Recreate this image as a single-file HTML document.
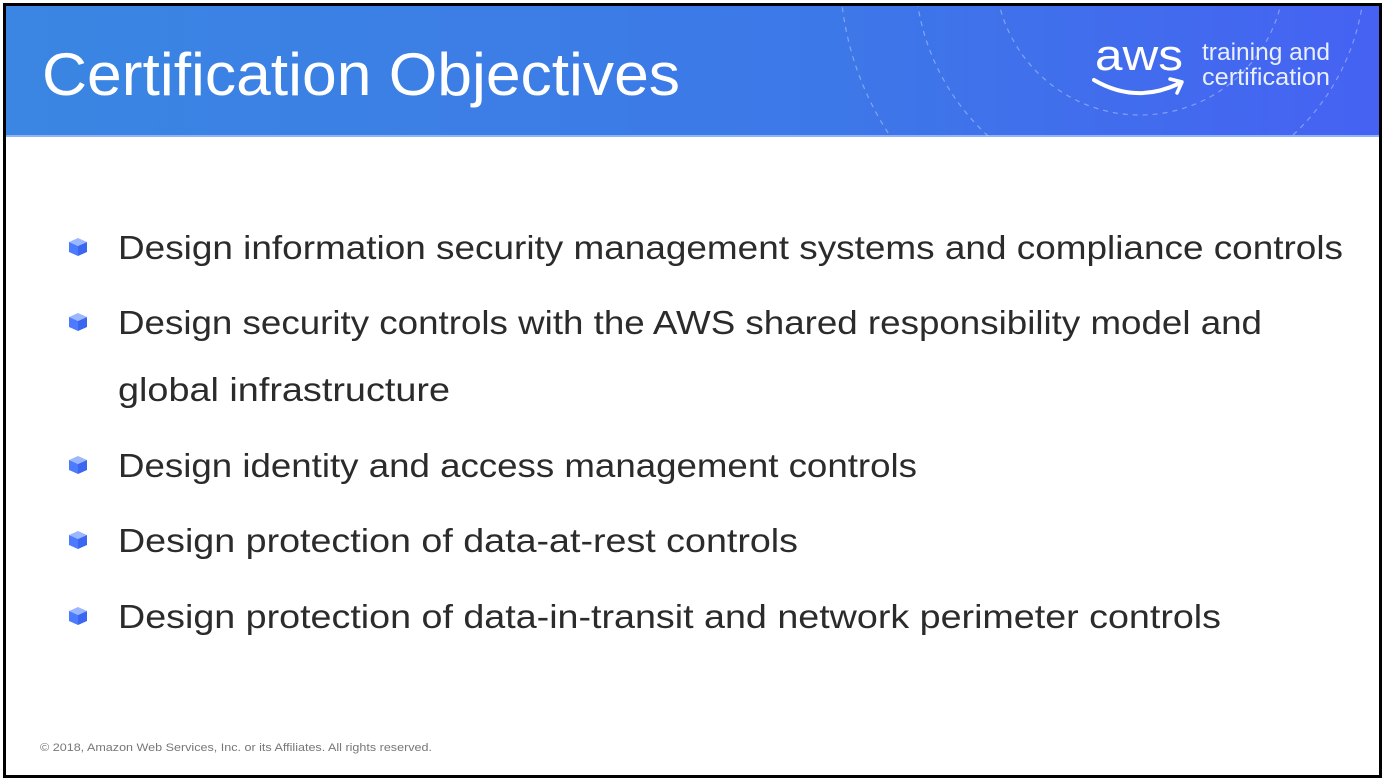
<!DOCTYPE html>
<html><head><meta charset="utf-8"><style>
html,body{margin:0;padding:0;background:#fff;}
svg{display:block;}
</style></head><body>
<svg width="1386" height="784" viewBox="0 0 1386 784" xmlns="http://www.w3.org/2000/svg">
<defs>
<linearGradient id="g" x1="0" y1="0" x2="1" y2="0">
<stop offset="0" stop-color="#3a86e2"/>
<stop offset="0.6" stop-color="#3d78e8"/>
<stop offset="1" stop-color="#4562f2"/>
</linearGradient>
<clipPath id="hc"><rect x="6" y="6" width="1373" height="131"/></clipPath>
<g id="cb">
<polygon points="69,242 78,238 87,242 78,246" fill="#9bb8ff"/>
<polygon points="69,242 78,246 78,256 69,252" fill="#4c7bff"/>
<polygon points="87,242 78,246 78,256 87,252" fill="#3a66f0"/>
</g>
</defs>
<rect x="0" y="0" width="1386" height="784" fill="#fff"/>
<rect x="6" y="6" width="1373" height="131" fill="url(#g)"/>
<rect x="6" y="135" width="1373" height="2" fill="#8fb4f5"/>
<g clip-path="url(#hc)" fill="none" stroke="#ffffff" stroke-opacity="0.35" stroke-width="1.2" stroke-dasharray="5,5">
<circle cx="1140" cy="-30" r="145"/>
<circle cx="1140" cy="-30" r="225"/>
<circle cx="1140" cy="-30" r="300"/>
</g>
<text x="42" y="95" font-family="Liberation Sans, sans-serif" font-size="60" fill="#fff" font-weight="300" textLength="638" lengthAdjust="spacingAndGlyphs">Certification Objectives</text>
<text x="1095" y="70" font-family="Liberation Sans, sans-serif" font-size="44" fill="#fff" textLength="88" lengthAdjust="spacingAndGlyphs">aws</text>
<path d="M1094 80 Q1135 104 1178 84" stroke="#fff" stroke-width="4" fill="none" stroke-linecap="round"/>
<path d="M1170 79 L1182 82 L1177 93" stroke="#fff" stroke-width="3.5" fill="none" stroke-linecap="round" stroke-linejoin="round"/>
<text x="1202" y="60" font-family="Liberation Sans, sans-serif" font-size="24" fill="#e8efff" textLength="128" lengthAdjust="spacingAndGlyphs">training and</text>
<text x="1202" y="85" font-family="Liberation Sans, sans-serif" font-size="24" fill="#e8efff" textLength="128" lengthAdjust="spacingAndGlyphs">certification</text>
<g font-family="Liberation Sans, sans-serif" font-size="33" fill="#2b2b2b">
<text x="118" y="259" textLength="1225" lengthAdjust="spacingAndGlyphs">Design information security management systems and compliance controls</text>
<text x="118" y="334" textLength="1144" lengthAdjust="spacingAndGlyphs">Design security controls with the AWS shared responsibility model and</text>
<text x="118" y="401" textLength="332" lengthAdjust="spacingAndGlyphs">global infrastructure</text>
<text x="118" y="477" textLength="799" lengthAdjust="spacingAndGlyphs">Design identity and access management controls</text>
<text x="118" y="552" textLength="680" lengthAdjust="spacingAndGlyphs">Design protection of data-at-rest controls</text>
<text x="118" y="628" textLength="1103" lengthAdjust="spacingAndGlyphs">Design protection of data-in-transit and network perimeter controls</text>
</g>
<use href="#cb"/>
<use href="#cb" transform="translate(0,75)"/>
<use href="#cb" transform="translate(0,218)"/>
<use href="#cb" transform="translate(0,293)"/>
<use href="#cb" transform="translate(0,369)"/>
<text x="40" y="751" font-family="Liberation Sans, sans-serif" font-size="11" fill="#777" textLength="392" lengthAdjust="spacingAndGlyphs">© 2018, Amazon Web Services, Inc. or its Affiliates. All rights reserved.</text>
<rect x="4.5" y="4.5" width="1376" height="772" fill="none" stroke="#000" stroke-width="3"/>
</svg>
</body></html>
